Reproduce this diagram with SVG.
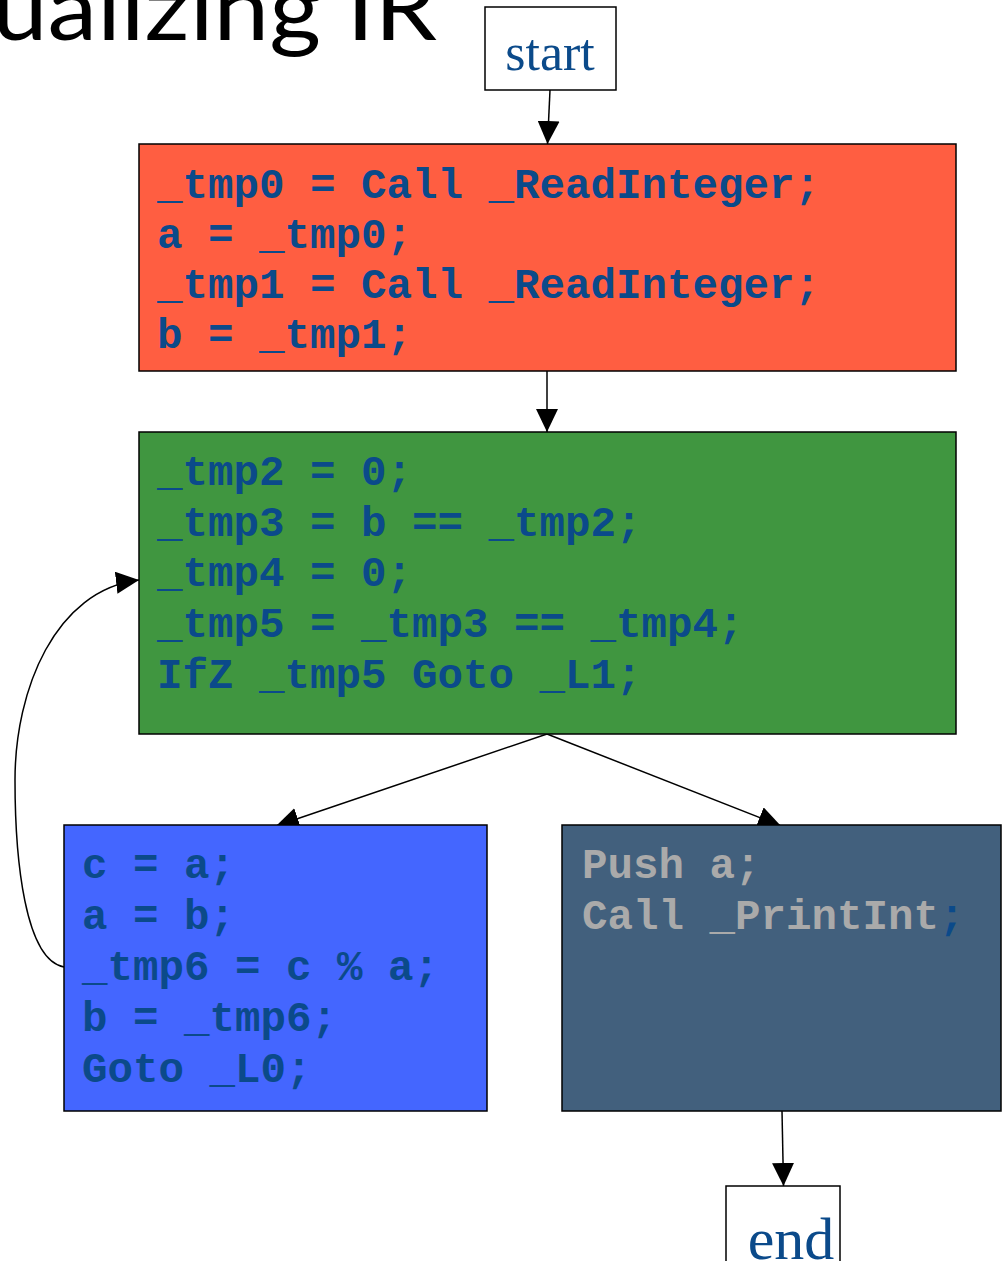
<svg xmlns="http://www.w3.org/2000/svg" width="1007" height="1261" viewBox="0 0 1007 1261">
<defs>
<style>
.box{stroke:#000;stroke-width:1.5}
.code{font-family:"Liberation Mono","Courier New",monospace;font-weight:bold;font-size:42.5px;fill:#0b4a8a;white-space:pre}
.gray{fill:#aaaaaa}
.term{font-family:"Liberation Serif","Times New Roman",serif;fill:#0b4a8a}
.edge{fill:none;stroke:#000;stroke-width:1.5}
</style>
<marker id="ah" markerUnits="userSpaceOnUse" markerWidth="24" markerHeight="22" refX="23" refY="11" orient="auto">
<path d="M0,0 L23,11 L0,22 z" fill="#000"/>
</marker>
</defs>
<rect width="1007" height="1261" fill="#fff"/>
<text x="-8" y="40" font-family="Lato,'Open Sans',sans-serif" font-size="92" textLength="445" lengthAdjust="spacingAndGlyphs" fill="#000">ualizing IR</text>

<g id="connectors">
<path class="edge" d="M550,90 L547.5,144" marker-end="url(#ah)"/>
<path class="edge" d="M547,371 L547,432" marker-end="url(#ah)"/>
<path class="edge" d="M547,734 L276,826" marker-end="url(#ah)"/>
<path class="edge" d="M547,734 L781,826" marker-end="url(#ah)"/>
<path class="edge" d="M782,1111 L783.5,1186" marker-end="url(#ah)"/>
<path class="edge" d="M64,967 C25,960 15,860 15,780 C15,690 55,590 139,580" marker-end="url(#ah)"/>
</g>

<g id="start">
<rect class="box" x="485" y="7" width="131" height="83" fill="#fff"/>
<text class="term" x="550" y="70" font-size="52" text-anchor="middle">start</text>
</g>

<g id="block1">
<rect class="box" x="139" y="144" width="817" height="227" fill="#ff5e41"/>
<text class="code" x="157" y="198">_tmp0 = Call _ReadInteger;</text>
<text class="code" x="157" y="248">a = _tmp0;</text>
<text class="code" x="157" y="298">_tmp1 = Call _ReadInteger;</text>
<text class="code" x="157" y="348">b = _tmp1;</text>
</g>

<g id="block2">
<rect class="box" x="139" y="432" width="817" height="302" fill="#409640"/>
<text class="code" x="157" y="485">_tmp2 = 0;</text>
<text class="code" x="157" y="536">_tmp3 = b == _tmp2;</text>
<text class="code" x="157" y="586">_tmp4 = 0;</text>
<text class="code" x="157" y="637">_tmp5 = _tmp3 == _tmp4;</text>
<text class="code" x="157" y="688">IfZ _tmp5 Goto _L1;</text>
</g>

<g id="block3">
<rect class="box" x="64" y="825" width="423" height="286" fill="#4466ff"/>
<text class="code" x="82" y="878">c = a;</text>
<text class="code" x="82" y="929">a = b;</text>
<text class="code" x="82" y="980">_tmp6 = c % a;</text>
<text class="code" x="82" y="1031">b = _tmp6;</text>
<text class="code" x="82" y="1082">Goto _L0;</text>
</g>

<g id="block4">
<rect class="box" x="562" y="825" width="439" height="286" fill="#42607d"/>
<text class="code gray" x="582" y="878">Push a;</text>
<text class="code" x="582" y="929"><tspan class="gray">Call _PrintInt</tspan>;</text>
</g>

<g id="end">
<rect class="box" x="726" y="1186" width="114" height="90" fill="#fff"/>
<text class="term" x="791" y="1259" font-size="60" text-anchor="middle">end</text>
</g>
</svg>
